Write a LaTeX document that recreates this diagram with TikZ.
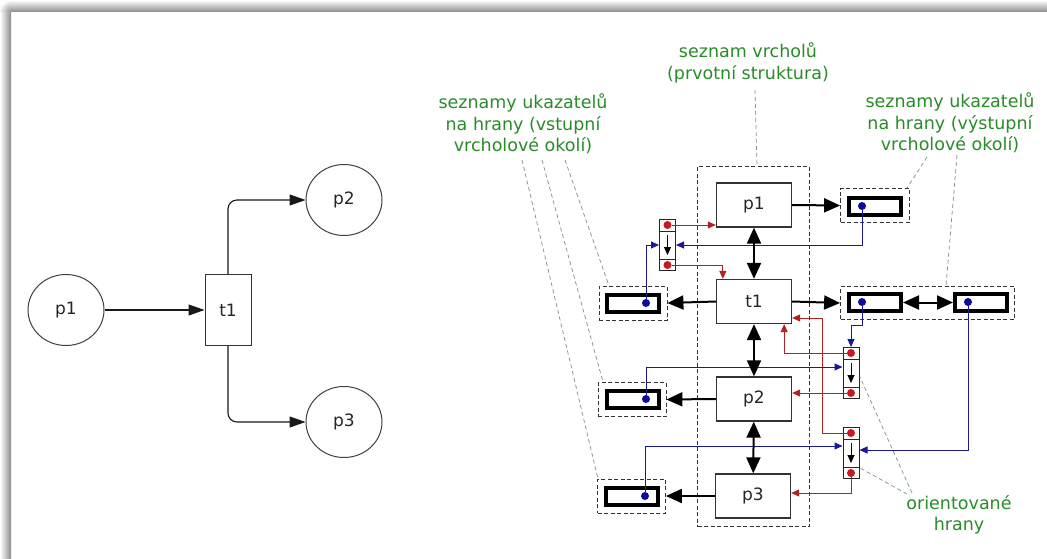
\documentclass[tikz,border=0pt]{standalone}
\usepackage{fontspec}
\setmainfont{DejaVu Sans}
\usetikzlibrary{arrows.meta,shapes.geometric,calc}
\definecolor{lblgreen}{RGB}{40,140,40}
\definecolor{ptrred}{RGB}{178,34,34}
\definecolor{ptrblue}{RGB}{25,25,150}
\definecolor{dotred}{RGB}{200,25,30}
\definecolor{dotblue}{RGB}{10,10,160}
\definecolor{leadc}{RGB}{120,150,120}
\begin{document}
\begin{tikzpicture}[x=1pt,y=-1pt,
  every node/.style={font=\fontsize{17}{20}\selectfont, text=black!85},
  place/.style={ellipse, draw=black!75, line width=1pt, minimum width=76pt, minimum height=71pt, inner sep=0pt},
  trans/.style={rectangle, draw=black!80, line width=1pt, minimum width=46pt, minimum height=71pt, inner sep=0pt},
  flow/.style={line width=1.1pt, draw=black!90, -{Triangle[length=16pt,width=11pt]}},
  vbox/.style={rectangle, draw=black!80, line width=1.3pt, minimum width=75pt, minimum height=44pt, inner sep=0pt},
  lbox/.style={rectangle, draw=black!80, line width=0.8pt, dash pattern=on 4pt off 2.5pt, inner sep=0pt},
  cell/.style={rectangle, draw=black, line width=4pt, minimum width=52pt, minimum height=17pt, inner sep=0pt},
  erec/.style={rectangle, draw=black!85, line width=1pt, minimum width=16pt, minimum height=51pt, inner sep=0pt},
  rdot/.style={circle, fill=dotred, minimum size=8pt, inner sep=0pt},
  bdot/.style={circle, fill=dotblue, minimum size=8pt, inner sep=0pt},
  heavy/.style={line width=2pt, draw=black},
  one/.style={heavy, -{Triangle[length=16pt,width=14pt]}},
  two/.style={heavy, {Triangle[length=16pt,width=14pt]}-{Triangle[length=16pt,width=14pt]}},
  rline/.style={draw=ptrred, line width=1pt, -{Triangle[length=8pt,width=7pt]}},
  bline/.style={draw=ptrblue, line width=1pt, -{Triangle[length=8pt,width=7pt]}},
  leader/.style={draw=leadc, line width=0.7pt, dash pattern=on 4pt off 3pt},
  note/.style={text=lblgreen, align=center, font=\fontsize{17.5}{21.5}\selectfont, inner sep=0pt}]

\useasboundingbox (0,0) rectangle (1047,559);
\fill[white] (0,0) rectangle (1047,559);

% page shadow along the top and left edges
\shade[top color=white, bottom color=black!45] (11,0) rectangle (1047,12);
\shade[left color=white, right color=black!45] (0,12) rectangle (11,559);
\begin{scope}
  \clip (0,0) rectangle (11,12);
  \shade[inner color=black!45, outer color=white] (11,12) circle (12);
\end{scope}

% ---------- Petri net ----------
\node[place] (lp1) at (66,310) {p1};
\node[trans] (lt1) at (228,310) {t1};
\node[place] (lp2) at (344,200) {p2};
\node[place] (lp3) at (344,422) {p3};
\draw[flow] (lp1) -- (lt1);
\draw[flow, rounded corners=9pt] (lt1.north) |- (lp2.west);
\draw[flow, rounded corners=9pt] (lt1.south) |- (lp3.west);

% ---------- data structure ----------
\node[lbox, minimum width=112pt, minimum height=360pt] (cont) at (753.5,346.5) {};

\node[vbox] (rp1) at (754,205) {p1};
\node[vbox] (rt1) at (754,301.5) {t1};
\node[vbox] (rp2) at (754,399) {p2};
\node[vbox] (rp3) at (753,496) {p3};

% incoming pointer lists
\node[lbox, minimum width=68pt, minimum height=34pt] (Lt1) at (633,303) {};
\node[cell] (Lt1i) at (633,303) {};
\node[bdot] (Lt1d) at (646,303) {};
\node[lbox, minimum width=68pt, minimum height=34pt] (Lp2) at (632,399.5) {};
\node[cell] (Lp2i) at (632.5,399) {};
\node[bdot] (Lp2d) at (646,399) {};
\node[lbox, minimum width=68pt, minimum height=34pt] (Lp3) at (631.5,496) {};
\node[cell] (Lp3i) at (632,496.5) {};
\node[bdot] (Lp3d) at (645,496) {};

% outgoing pointer lists
\node[lbox, minimum width=69pt, minimum height=34pt] (Rp1) at (875,205.5) {};
\node[cell] (Rp1i) at (875,206) {};
\node[bdot] (Rp1d) at (862,206) {};
\node[lbox, minimum width=174pt, minimum height=33pt] (Rt1) at (927.5,303) {};
\node[cell] (Rt1i) at (875,302.5) {};
\node[cell] (Rt1j) at (981,302.5) {};
\node[bdot] (Rt1d) at (862,302) {};
\node[bdot] (Rt1e) at (968,302) {};

% edge records
\node[erec] (e1) at (667.5,245) {};
\node[erec] (e2) at (851,373) {};
\node[erec] (e3) at (851,453) {};
\foreach \e in {e1,e2,e3} {
  \draw[black!85, line width=1pt] ($(\e.north west)+(0,12)$) -- ($(\e.north east)+(0,12)$);
  \draw[black!85, line width=1pt] ($(\e.south west)+(0,-12)$) -- ($(\e.south east)+(0,-12)$);
  \draw[black, line width=1pt, -{Triangle[length=8pt,width=7pt]}] ($(\e.center)+(0,-10)$) -- ($(\e.center)+(0,10)$);
  \node[rdot] (\e-s) at ($(\e.north)+(0,6)$) {};
  \node[rdot] (\e-t) at ($(\e.south)+(0,-6)$) {};
}

% red: edge ends pointing at vertices
\coordinate (k1) at (822,318);
\draw[rline] (e1-s) -- (e1-s -| rp1.west);
\draw[rline] (e1-t) -| ([xshift=7pt]rt1.north west);
\draw[rline] (e2-s) -| ([xshift=-8pt]rt1.south east);
\draw[rline] (e2-t) -- (e2-t -| rp2.east);
\draw[rline] (e3-s) -| (k1) -- (k1 -| rt1.east);
\draw[rline] (e3-t) |- ([yshift=3pt]rp3.east);

% blue: list items pointing at edges
\coordinate (k3) at (851,325);
\draw[bline] (Lt1d) |- (e1.west);
\draw[bline] (Rp1d) |- (e1.east);
\draw[bline] (Rt1d) |- (k3) -- (e2.north);
\draw[bline] (Rt1e) |- ([yshift=3pt]e3.east);
\draw[bline] (Lp2d) |- ([yshift=6pt]e2.west);
\draw[bline] (Lp3d) |- ([yshift=7pt]e3.west);

% vertex list links and list heads
\draw[two] (rp1) -- (rt1);
\draw[two] (rt1) -- (rp2);
\draw[two] (rp2) -- (rp3);
\draw[one] (rt1.west) -- (Lt1.east);
\draw[one] (rp2.west) -- (Lp2.east);
\draw[one] (rp3.west) -- (Lp3.east);
\draw[one] (rp1.east) -- (Rp1.west);
\draw[one] (rt1.east) -- (Rt1.west);
\draw[two] (Rt1i.east) -- (Rt1j.west);

% annotations
\node[note] (lblV) at (748,63) {seznam vrcholů\\(prvotní struktura)};
\node[note] (lblIn) at (523,124) {seznamy ukazatelů\\na hrany (vstupní\\vrcholové okolí)};
\node[note] (lblOut) at (950,123) {seznamy ukazatelů\\na hrany (výstupní\\vrcholové okolí)};
\node[note] (lblE) at (959,515) {orientované\\hrany};

\coordinate (a1) at (755,90);   \coordinate (b1) at (757,166);
\coordinate (a2) at (522,160);  \coordinate (b2) at (598,479);
\coordinate (a3) at (542,160);  \coordinate (b3) at (603,382);
\coordinate (a4) at (565,160);  \coordinate (b4) at (609,286);
\coordinate (a5) at (927,157);  \coordinate (b5) at (907,188);
\coordinate (a6) at (957,155);  \coordinate (b6) at (946,286);
\coordinate (a7) at (912,493);  \coordinate (b7) at (860,377);
\coordinate (a8) at (907,494);  \coordinate (b8) at (860,468);
\foreach \i in {1,...,8} { \draw[leader] (a\i) -- (b\i); }
\end{tikzpicture}
\end{document}
